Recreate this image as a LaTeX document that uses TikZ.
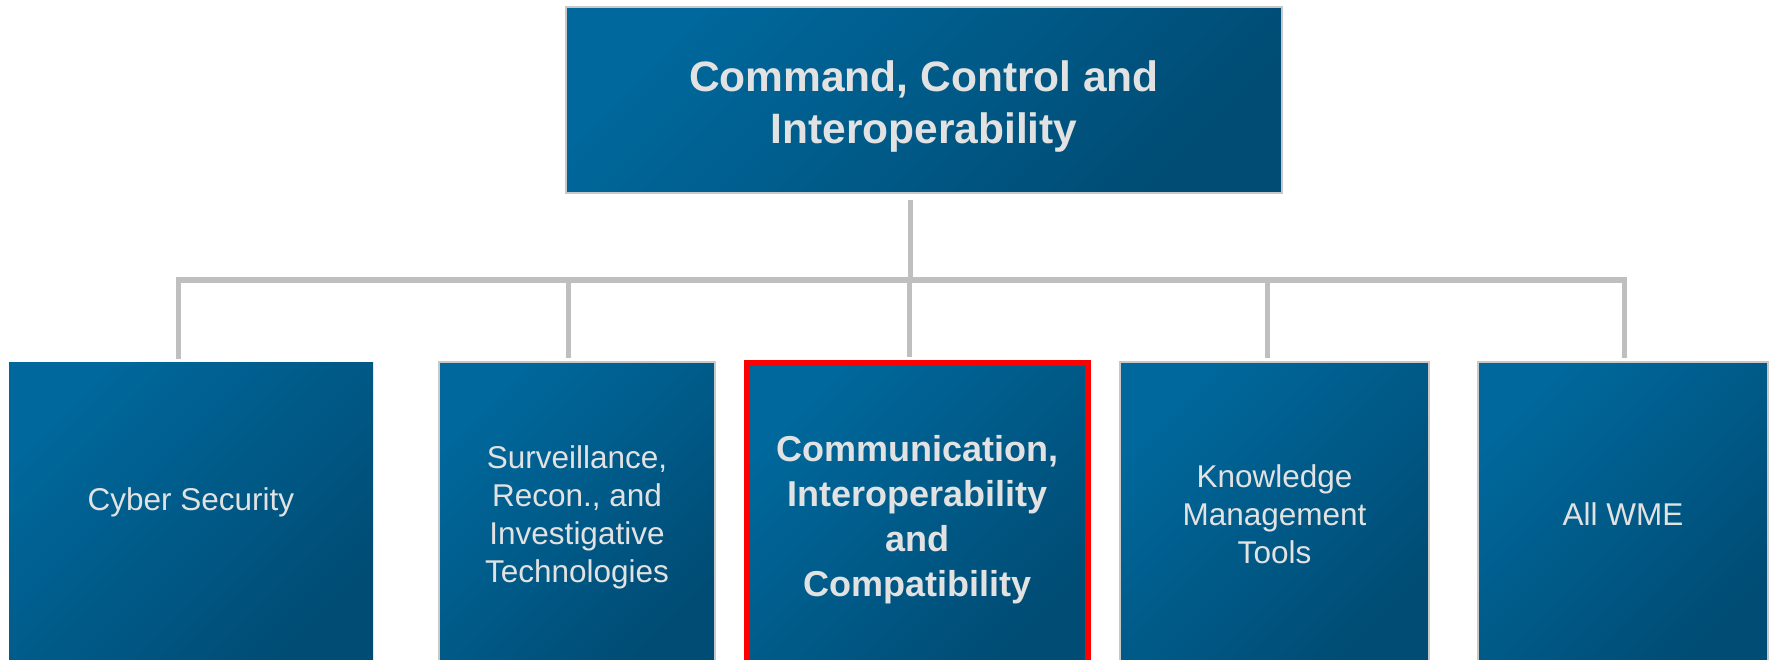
\documentclass[tikz,border=0pt]{standalone}
\usepackage{fontspec}
\setmainfont{Liberation Sans}
\usepackage{xcolor}
\usepackage{tikz}
\usetikzlibrary{positioning}

\definecolor{boxlight}{RGB}{0,104,156}
\definecolor{boxdark}{RGB}{0,76,116}
\definecolor{linkgray}{RGB}{191,191,191}
\definecolor{rimgray}{RGB}{200,200,200}
\definecolor{labelgray}{RGB}{226,226,226}
\tikzset{
	box/.style={rectangle, top color=boxlight, bottom color=boxdark, shading angle=45, text=labelgray, align=center, inner sep=0pt},
	rim/.style={draw=rimgray, line width=2pt},
	plain/.style={font=\fontsize{31.5}{38}\selectfont},
	heavy/.style={font=\bfseries\fontsize{36}{45}\selectfont},
	link/.style={draw=linkgray, line width=5pt},
}

\begin{document}
\begin{tikzpicture}[x=1pt, y=-1pt]
		\useasboundingbox (0,0) rectangle (1774,660);
		
		\node[box, rim, minimum width=716pt, minimum height=186pt, text height=95pt, font=\bfseries\fontsize{42.5}{52}\selectfont] (cci) at (924,100) {Command, Control and\\Interoperability};
		
		\node[box, plain, minimum width=364pt, minimum height=304pt, text depth=29pt] (cyber) at (191,514) {Cyber Security};
		\node[box, rim, plain, minimum width=276pt, minimum height=304pt, text height=143pt] (recon) at (577,514) {Surveillance,\\Recon., and\\Investigative\\Technologies};
		\node[box, heavy, draw=red, line width=6pt, minimum width=341pt, minimum height=304pt, text height=170pt] (comm) at (917.5,515) {Communication,\\Interoperability\\and\\Compatibility};
		\node[box, rim, plain, minimum width=309pt, minimum height=304pt] (know) at (1274.5,514) {Knowledge\\Management\\Tools};
		\node[box, rim, plain, minimum width=290pt, minimum height=304pt] (wme) at (1623,514) {All WME};
		
		\coordinate (bar) at (910,280);
		\foreach \kid/\dx in {cyber/-13, recon/-9, comm/-8, know/-7, wme/1}
			\draw[link, shorten <=6pt, shorten >=3pt] ([xshift=-14pt]cci.south) -- (bar) -| ([xshift=\dx pt]\kid.north);
	\end{tikzpicture}
\end{document}
